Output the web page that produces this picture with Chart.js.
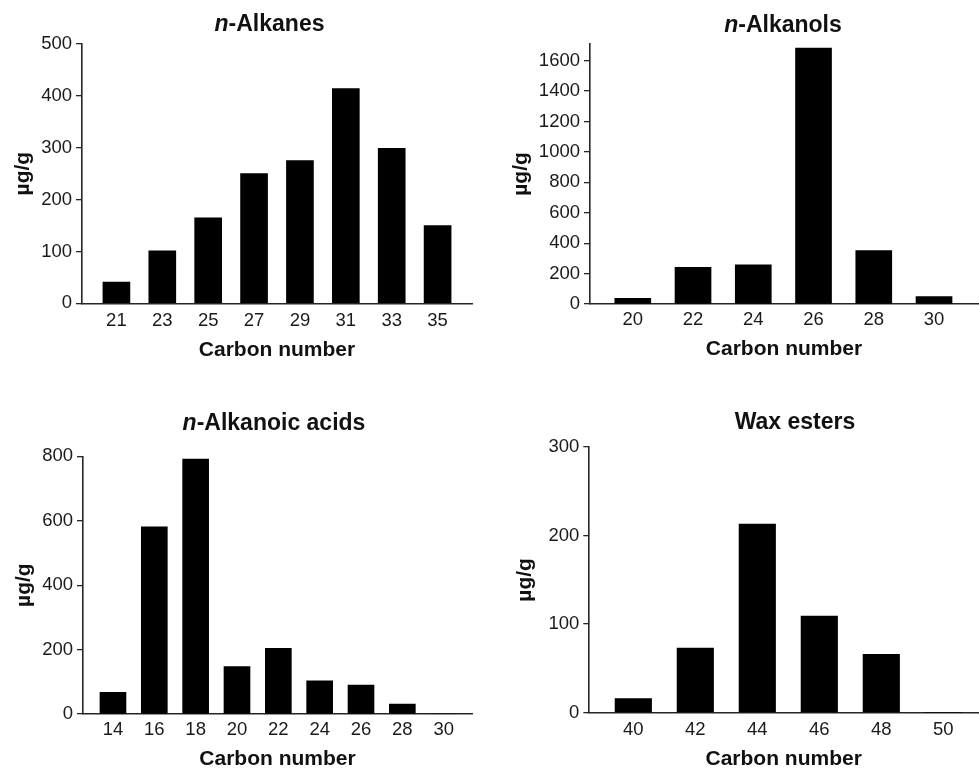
<!DOCTYPE html>
<html>
<head>
<meta charset="utf-8">
<script src="https://cdn.jsdelivr.net/npm/chart.js@4/dist/chart.umd.min.js"></script>
<style>
  html, body { margin: 0; padding: 0; background: #ffffff; }
  body { width: 979px; height: 768px; position: relative; overflow: hidden; }
  canvas { position: absolute; }
</style>
</head>
<body>
<canvas id="c1"></canvas>
<canvas id="c2"></canvas>
<canvas id="c3"></canvas>
<canvas id="c4"></canvas>
<script>
// ---------- data ----------
const alkanesCarbon = [21, 23, 25, 27, 29, 31, 33, 35];
const alkanesValues = [41, 101, 165, 250, 275, 414, 299, 150];
const alkanesYTicks = [0, 100, 200, 300, 400, 500];

const alkanolsCarbon = [20, 22, 24, 26, 28, 30];
const alkanolsValues = [37, 241, 257, 1683, 351, 48];
const alkanolsYTicks = [0, 200, 400, 600, 800, 1000, 1200, 1400, 1600];

const acidsCarbon = [14, 16, 18, 20, 22, 24, 26, 28, 30];
const acidsValues = [67, 581, 791, 147, 204, 103, 90, 31, 0];
const acidsYTicks = [0, 200, 400, 600, 800];

const waxCarbon = [40, 42, 44, 46, 48, 50];
const waxValues = [16, 73, 213, 109, 66, 0];
const waxYTicks = [0, 100, 200, 300];

const yAxisLabel = 'µg/g';
const xAxisLabel = 'Carbon number';

// ---------- style ----------
const FAMILY = "'Liberation Sans', Arial, Helvetica, sans-serif";
Chart.defaults.font.family = FAMILY;
Chart.defaults.color = '#1a1a1a';
const TICK_SIZE = 18.5, AXIS_TITLE_SIZE = 21, TITLE_SIZE = 23, LH = 1.2;
const X_SCALE_H = 70;

const panelTitlePlugin = {
  id: 'panelTitle',
  afterDraw(chart, args, opts) {
    const ctx = chart.ctx;
    const parts = opts.parts || [];
    ctx.save();
    ctx.fillStyle = '#111';
    ctx.textBaseline = 'alphabetic';
    ctx.textAlign = 'left';
    let total = 0;
    const fonts = parts.map(p => (p.italic ? 'italic ' : '') + 'bold ' + TITLE_SIZE + 'px ' + FAMILY);
    parts.forEach((p, i) => { ctx.font = fonts[i]; total += ctx.measureText(p.text).width; });
    let x = opts.cx - total / 2;
    parts.forEach((p, i) => { ctx.font = fonts[i]; ctx.fillText(p.text, x, opts.baseline); x += ctx.measureText(p.text).width; });
    ctx.restore();
  }
};

function makePanel(p) {
  const el = document.getElementById(p.id);
  el.width = p.box.w; el.height = p.box.h;
  el.style.left = p.box.x + 'px'; el.style.top = p.box.y + 'px';
  el.style.width = p.box.w + 'px'; el.style.height = p.box.h + 'px';

  const yW = p.area.left - p.box.x;
  const padTop = p.area.top - p.box.y;
  const padRight = (p.box.x + p.box.w) - p.area.right;
  const padBottom = (p.box.y + p.box.h) - p.area.bottom - X_SCALE_H;
  const yTitlePad = (p.yTitleX - p.box.x) - AXIS_TITLE_SIZE * LH / 2;
  const xTitlePad = (p.area.bottom + X_SCALE_H) - p.xTitleY - AXIS_TITLE_SIZE * LH / 2;
  const xTickPad = p.xTickY - p.area.bottom - TICK_SIZE * LH / 2;

  return new Chart(el, {
    type: 'bar',
    data: {
      datasets: [{
        data: p.carbon.map((c, i) => ({ x: c, y: p.values[i] })),
        backgroundColor: '#000000',
        borderWidth: 0,
        barThickness: p.barW
      }]
    },
    plugins: [panelTitlePlugin],
    options: {
      responsive: false,
      animation: false,
      devicePixelRatio: 1,
      layout: { padding: { left: 0, top: padTop, right: padRight, bottom: padBottom } },
      plugins: {
        legend: { display: false },
        tooltip: { enabled: false },
        panelTitle: { parts: p.title, cx: p.titleCx - p.box.x, baseline: p.titleCapCy - p.box.y + TITLE_SIZE * 0.716 / 2 }
      },
      scales: {
        x: {
          type: 'linear',
          position: 'bottom',
          offset: false,
          min: p.xMin, max: p.xMax,
          afterBuildTicks: s => { s.ticks = p.carbon.map(v => ({ value: v })); },
          afterFit: s => { s.height = X_SCALE_H; },
          grid: { display: false, drawTicks: false, offset: false },
          border: { display: true, color: '#262626', width: 1.6 },
          ticks: { padding: xTickPad, color: '#1a1a1a', font: { size: TICK_SIZE, lineHeight: LH }, maxRotation: 0, autoSkip: false, callback: v => String(v) },
          title: { display: true, text: xAxisLabel, color: '#111', font: { size: AXIS_TITLE_SIZE, weight: 'bold', lineHeight: LH }, padding: { top: 0, bottom: xTitlePad } }
        },
        y: {
          type: 'linear',
          position: 'left',
          min: 0, max: p.yMax,
          afterBuildTicks: s => { s.ticks = p.yTicks.map(v => ({ value: v })); },
          afterFit: s => { s.width = yW; },
          grid: { display: true, drawOnChartArea: false, drawTicks: true, tickLength: 6, color: '#262626', lineWidth: 1.3 },
          border: { display: true, color: '#262626', width: 1.6 },
          ticks: { padding: 4, color: '#1a1a1a', font: { size: TICK_SIZE, lineHeight: LH }, callback: v => String(v) },
          title: { display: true, text: yAxisLabel, color: '#111', font: { size: AXIS_TITLE_SIZE, weight: 'bold', lineHeight: LH }, padding: { top: yTitlePad, bottom: 0 } }
        }
      }
    }
  });
}

makePanel({
  id: 'c1', box: { x: 0, y: 0, w: 490, h: 380 },
  area: { left: 82, right: 472, top: 44, bottom: 303.3 },
  yTitleX: 23.5, xTitleY: 350, xTickY: 321,
  titleCx: 269.5, titleCapCy: 22.8,
  title: [{ text: 'n', italic: true }, { text: '-Alkanes' }],
  carbon: alkanesCarbon, values: alkanesValues, yTicks: alkanesYTicks,
  xMin: 19.5, xMax: 36.5, yMax: 500, barW: 27
});

makePanel({
  id: 'c2', box: { x: 490, y: 0, w: 489, h: 380 },
  area: { left: 590, right: 978, top: 44, bottom: 304 },
  yTitleX: 521.7, xTitleY: 349.5, xTickY: 320,
  titleCx: 783, titleCapCy: 23.3,
  title: [{ text: 'n', italic: true }, { text: '-Alkanols' }],
  carbon: alkanolsCarbon, values: alkanolsValues, yTicks: alkanolsYTicks,
  xMin: 18.58, xMax: 31.46, yMax: 1710, barW: 36
});

makePanel({
  id: 'c3', box: { x: 0, y: 380, w: 490, h: 388 },
  area: { left: 83, right: 472, top: 456.3, bottom: 714 },
  yTitleX: 24, xTitleY: 759.3, xTickY: 729.5,
  titleCx: 274, titleCapCy: 421.7,
  title: [{ text: 'n', italic: true }, { text: '-Alkanoic acids' }],
  carbon: acidsCarbon, values: acidsValues, yTicks: acidsYTicks,
  xMin: 12.55, xMax: 31.37, yMax: 800, barW: 26
});

makePanel({
  id: 'c4', box: { x: 490, y: 380, w: 489, h: 388 },
  area: { left: 589.3, right: 978, top: 447, bottom: 712.7 },
  yTitleX: 525, xTitleY: 759.3, xTickY: 729.5,
  titleCx: 795, titleCapCy: 420.8,
  title: [{ text: 'Wax esters' }],
  carbon: waxCarbon, values: waxValues, yTicks: waxYTicks,
  xMin: 38.58, xMax: 51.12, yMax: 300, barW: 36.5
});
</script>
</body>
</html>
